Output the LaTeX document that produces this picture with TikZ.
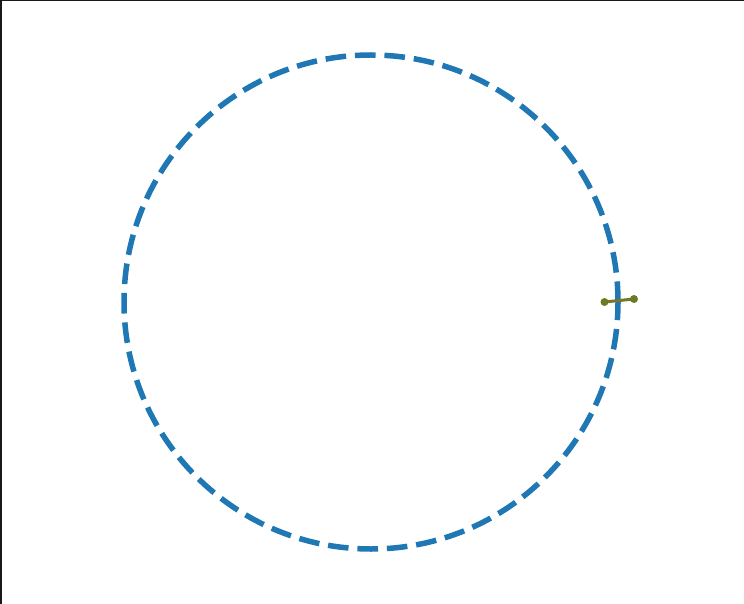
\documentclass[tikz,border=0pt]{standalone}
\usepackage{xcolor}
\definecolor{mplblue}{RGB}{31,119,180}
\definecolor{segolive}{RGB}{107,122,38}
\definecolor{segbrown}{RGB}{150,110,40}
\tikzset{
  ringstyle/.style={draw=mplblue, line width=5.5pt, dash pattern=on 20.6pt off 8.9pt},
  segline/.style={draw=segolive, line width=3pt},
  segdot/.style={fill=segolive},
  framestyle/.style={draw=black!90, line width=1.5pt}
}
\begin{document}
\begin{tikzpicture}[x=1pt,y=-1pt]
\useasboundingbox (0,0) rectangle (744,604);
\fill[white] (0,0) rectangle (744,604);
\draw[framestyle] (0.75,604) -- (0.75,0.75) -- (744,0.75);
\coordinate (c) at (371,302);
\draw[ringstyle] (c) ++(247,0) arc[start angle=0, end angle=-360, radius=247];
\coordinate (p) at (604.5,302);
\coordinate (q) at (634,299);
\draw[segline] (p) -- (q);
\draw[draw=segbrown, line width=0.8pt] (p) -- (q);
\fill[segdot] (p) circle (4);
\fill[segdot] (q) circle (4);
\end{tikzpicture}
\end{document}
